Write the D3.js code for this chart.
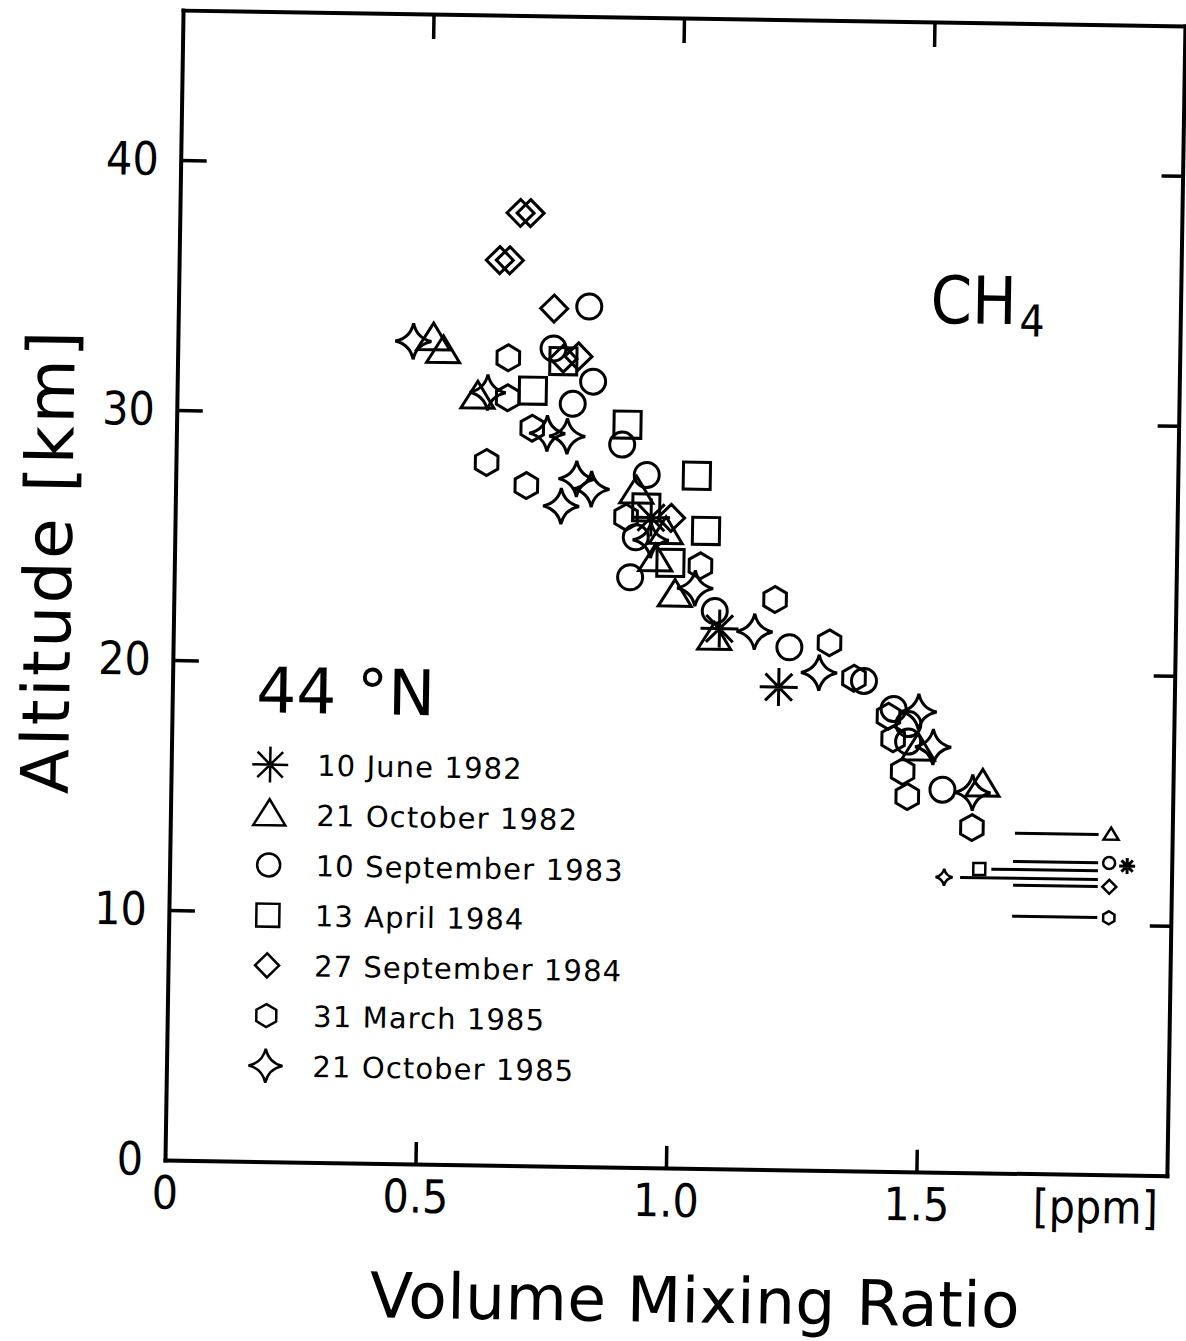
<!DOCTYPE html>
<html>
<head>
<meta charset="utf-8">
<script src="https://cdn.jsdelivr.net/npm/d3@7"></script>
<style>
  body { margin: 0; background: #fff; }
  text { font-family: "DejaVu Sans", sans-serif; fill: #000; }
</style>
</head>
<body>
<script>
// CH4 profiles at 44N
var dates = ["10 June 1982", "21 October 1982", "10 September 1983", "13 April 1984",
             "27 September 1984", "31 March 1985", "21 October 1985"];

// [mixing ratio ppm, altitude km]
var jun82 = [[0.95,26.0],[1.09,21.6],[1.21,19.3]];
var oct82 = [[0.51,33.0],[0.53,32.5],[0.60,30.7],[0.92,27.0],[0.98,25.4],[0.96,24.3],
             [1.00,22.9],[1.08,21.2],[1.49,16.9],[1.62,15.5]];
var sep83 = [[0.82,34.4],[0.75,32.7],[0.83,31.4],[0.79,30.5],[0.89,28.9],[0.94,27.7],
             [0.92,25.2],[0.91,23.6],[1.08,22.3],[1.23,20.9],[1.38,19.6],[1.44,18.5],
             [1.47,17.9],[1.47,17.2],[1.54,15.3]];
var apr84 = [[0.77,32.2],[0.71,31.0],[0.90,29.7],[1.04,27.7],[0.94,26.4],[1.06,25.5],[0.99,24.2]];
var sep84 = [[0.68,38.1],[0.70,38.1],[0.64,36.2],[0.66,36.2],[0.75,34.3],[0.77,32.3],
             [0.80,32.4],[0.99,26.0]];
var mar85 = [[0.66,32.3],[0.66,30.7],[0.71,29.5],[0.62,28.1],[0.70,27.2],[0.90,26.0],
             [1.05,24.1],[1.20,22.8],[1.31,21.1],[1.36,19.7],[1.43,18.2],[1.44,17.3],
             [1.46,16.0],[1.47,15.0],[1.60,13.8]];
var oct85 = [[0.47,32.9],[0.62,30.9],[0.74,29.3],[0.78,29.2],[0.80,27.5],[0.83,27.1],
             [0.77,26.4],[0.95,25.1],[1.04,23.2],[1.16,21.5],[1.29,19.9],[1.49,18.4],
             [1.52,17.0],[1.60,15.2]];
var series = [jun82, oct82, sep83, apr84, sep84, mar85, oct85];

// tropopause marks on the right, one per date (same order as dates)
var tropoAlt      = [12.36, 13.60, 12.47, 12.15, 11.52, 10.28, 11.80];
var tropoLineFrom = [null, 1.686, 1.683, 1.640, 1.684, 1.683, 1.578];
var tropoLineTo   = [null, 1.853, 1.853, 1.853, 1.853, 1.853, 1.853];
var tropoMarkX    = [1.911, 1.878, 1.875, 1.616, 1.876, 1.876, 1.546];

var xTicks = [0, 0.5, 1.0, 1.5];
var xTickLabels = ["0", "0.5", "1.0", "1.5"];
var yTicks = [0, 10, 20, 30, 40];

// symbol shapes, size = radius
var symAsterisk = {draw: function(c, r) {
  var d = r * Math.SQRT1_2;
  c.moveTo(-r, 0); c.lineTo(r, 0); c.moveTo(0, -r); c.lineTo(0, r);
  c.moveTo(-d, -d); c.lineTo(d, d); c.moveTo(-d, d); c.lineTo(d, -d);
}};
var symTriangle = {draw: function(c, r) {
  var h = r * 1.62;
  c.moveTo(0, -h * 0.6); c.lineTo(r, h * 0.4); c.lineTo(-r, h * 0.4); c.closePath();
}};
var symCircle = {draw: function(c, r) { c.moveTo(r, 0); c.arc(0, 0, r, 0, 2 * Math.PI); }};
var symSquare = {draw: function(c, r) { c.rect(-r, -r, 2 * r, 2 * r); }};
var symDiamond = {draw: function(c, r) {
  c.moveTo(0, -r); c.lineTo(r, 0); c.lineTo(0, r); c.lineTo(-r, 0); c.closePath();
}};
var symHexagon = {draw: function(c, r) {
  for (var k = 0; k < 6; k++) {
    var a = (-90 + 60 * k) * Math.PI / 180;
    if (k === 0) c.moveTo(r * Math.cos(a), r * Math.sin(a));
    else c.lineTo(r * Math.cos(a), r * Math.sin(a));
  }
  c.closePath();
}};
var symStar = {draw: function(c, r) {
  var k = r * 0.18;
  c.moveTo(0, -r);
  c.quadraticCurveTo(k, -k, r, 0);
  c.quadraticCurveTo(k, k, 0, r);
  c.quadraticCurveTo(-k, k, -r, 0);
  c.quadraticCurveTo(-k, -k, 0, -r);
  c.closePath();
}};
var types = [symAsterisk, symTriangle, symCircle, symSquare, symDiamond, symHexagon, symStar];
var bigR = [19, 16.5, 12.5, 13.5, 13.5, 13, 18];
var smallR = [8, 7.5, 6, 6, 7, 6.5, 8.5];
var legendR = [18, 16, 11.5, 11.5, 12, 11.5, 17];

var svg = d3.select("body").append("svg")
    .attr("width", 1186)
    .attr("height", 1341);

// the scanned page is turned a little, so the whole figure is too
var g = svg.append("g")
    .attr("transform", "rotate(0.9,165,1160)");

var x = d3.scaleLinear().domain([0, 2]).range([165, 1167]);
var y = d3.scaleLinear().domain([0, 46]).range([1160, 10]);

function styleAxis(sel) {
  sel.attr("font-family", null).attr("font-size", null);
  sel.select(".domain").attr("stroke", "#000").attr("stroke-width", 4).attr("stroke-linecap", "square");
  sel.selectAll(".tick line").attr("stroke", "#000").attr("stroke-width", 3.5);
}

var xAxis = g.append("g")
    .attr("transform", "translate(0,1160)")
    .call(d3.axisBottom(x).tickValues(xTicks).tickSize(-22).tickSizeOuter(0).tickPadding(16)
      .tickFormat(function(d, i) { return xTickLabels[i]; }))
    .call(styleAxis);
xAxis.selectAll(".tick text")
    .style("font-family", "'DejaVu Sans Condensed', sans-serif")
    .style("font-size", "46px");
xAxis.selectAll(".tick").filter(function(d) { return d === 0; }).select("line").remove();

var yAxis = g.append("g")
    .attr("transform", "translate(165,0)")
    .call(d3.axisLeft(y).tickValues(yTicks).tickSize(-26).tickSizeOuter(0).tickPadding(22))
    .call(styleAxis);
yAxis.selectAll(".tick text")
    .style("font-family", "'DejaVu Sans Condensed', sans-serif")
    .style("font-size", "46px");
yAxis.selectAll(".tick").filter(function(d) { return d === 0; }).select("line").remove();

g.append("g")
    .attr("transform", "translate(0,10)")
    .call(d3.axisTop(x).tickValues([0.5, 1.0, 1.5]).tickSize(-25).tickSizeOuter(0).tickFormat(""))
    .call(styleAxis);

g.append("g")
    .attr("transform", "translate(1167,0)")
    .call(d3.axisRight(y).tickValues([10, 20, 30, 40]).tickSize(-21).tickSizeOuter(0).tickFormat(""))
    .call(styleAxis);

g.append("text")
    .attr("x", x(1.858)).attr("y", 1176).attr("dy", "0.71em")
    .attr("text-anchor", "middle")
    .style("font-family", "'DejaVu Sans Condensed', sans-serif")
    .style("font-size", "46px")
    .text("[ppm]");

// axis titles
g.append("text")
    .attr("transform", "translate(62,563) rotate(-90)")
    .attr("text-anchor", "middle")
    .style("font-size", "66px")
    .style("letter-spacing", "2.5px")
    .text("Altitude [km]");

g.append("text")
    .attr("x", 697).attr("y", 1314)
    .attr("text-anchor", "middle")
    .style("font-size", "63px")
    .style("letter-spacing", "0.4px")
    .text("Volume Mixing Ratio");

// data points
series.forEach(function(s, i) {
  g.append("g").selectAll("path")
    .data(s)
    .enter().append("path")
      .attr("transform", function(d) { return "translate(" + x(d[0]) + "," + y(d[1]) + ")"; })
      .attr("d", d3.symbol().type(types[i]).size(bigR[i]))
      .attr("fill", "none")
      .attr("stroke", "#000")
      .attr("stroke-width", 3);
});

// tropopause lines and their small symbols
var tropo = g.append("g");
dates.forEach(function(dt, i) {
  if (tropoLineFrom[i] !== null) {
    tropo.append("line")
      .attr("x1", x(tropoLineFrom[i])).attr("x2", x(tropoLineTo[i]))
      .attr("y1", y(tropoAlt[i])).attr("y2", y(tropoAlt[i]))
      .attr("stroke", "#000").attr("stroke-width", 3);
  }
  tropo.append("path")
    .attr("transform", "translate(" + x(tropoMarkX[i]) + "," + y(tropoAlt[i]) + ")")
    .attr("d", d3.symbol().type(types[i]).size(smallR[i]))
    .attr("fill", "none")
    .attr("stroke", "#000")
    .attr("stroke-width", i === 0 ? 3 : 2.5);
});

// labels
g.append("text")
    .attr("x", 917).attr("y", 311)
    .style("font-family", "'DejaVu Sans Condensed', sans-serif")
    .style("font-size", "66px")
    .text("CH")
  .append("tspan")
    .attr("dx", 3).attr("dy", 12)
    .style("font-size", "44px")
    .text("4");

g.append("text")
    .attr("x", 249).attr("y", 711)
    .style("font-size", "63px")
    .text("44 °N");

var legend = g.append("g");
dates.forEach(function(dt, i) {
  var ly = 763 + i * 50.2;
  legend.append("path")
    .attr("transform", "translate(264," + ly + ")")
    .attr("d", d3.symbol().type(types[i]).size(legendR[i]))
    .attr("fill", "none")
    .attr("stroke", "#000")
    .attr("stroke-width", 2.5);
  legend.append("text")
    .attr("x", 311).attr("y", ly).attr("dy", "0.36em")
    .style("font-size", "29px")
    .style("letter-spacing", "1.1px")
    .text(dt);
});
</script>
</body>
</html>
